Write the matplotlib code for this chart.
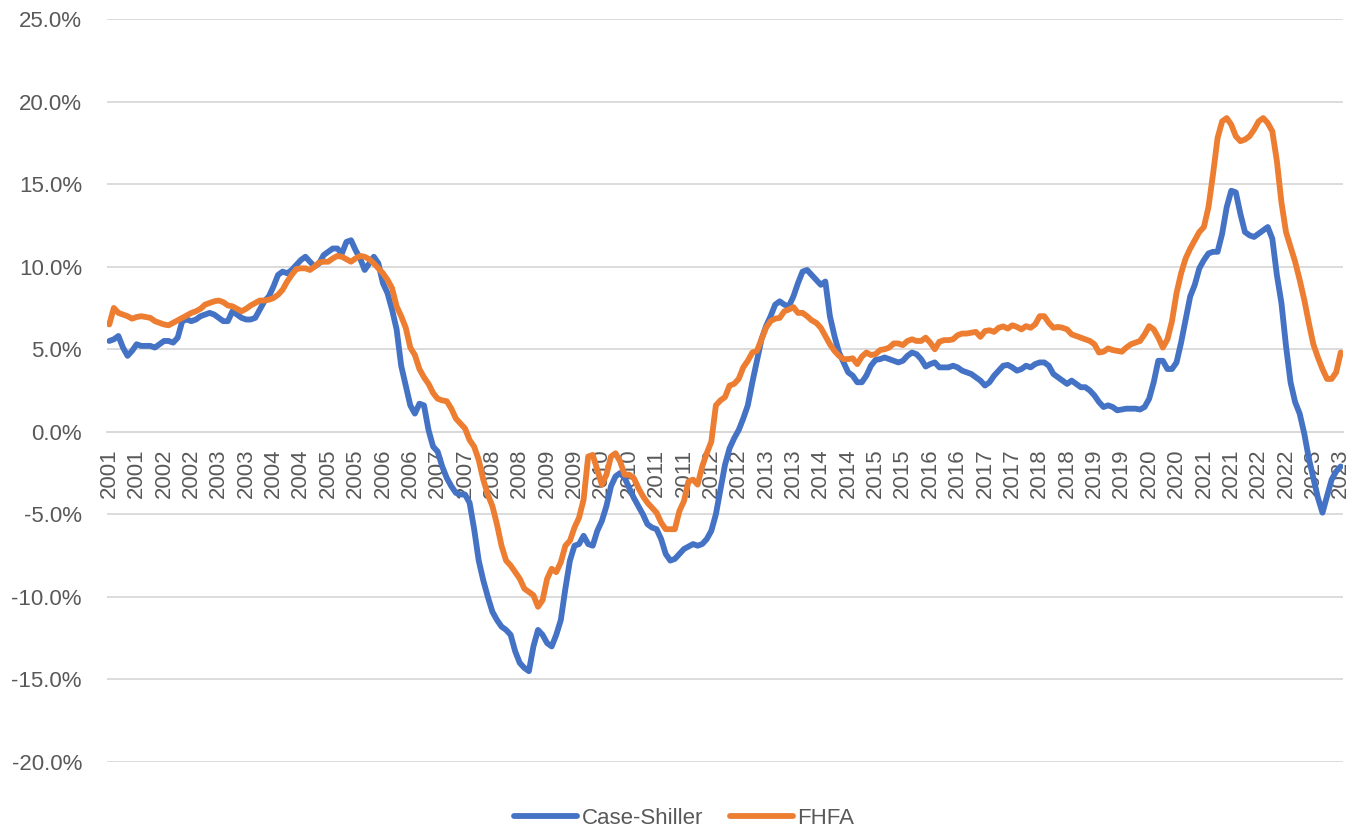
import matplotlib
matplotlib.use("Agg")
import matplotlib.pyplot as plt
import numpy as np

# Monthly year-over-year change (%), Jan 2001 .. Jul 2023
case_shiller = [
    # 2001
    5.5, 5.6, 5.8, 5.1, 4.6, 4.9, 5.3, 5.2, 5.2, 5.2, 5.1, 5.3,
    # 2002
    5.5, 5.5, 5.4, 5.7, 6.7, 6.8, 6.7, 6.8, 7.0, 7.1, 7.2, 7.1,
    # 2003
    6.9, 6.7, 6.7, 7.3, 7.1, 6.9, 6.8, 6.8, 6.9, 7.4, 7.9, 8.2,
    # 2004
    8.8, 9.5, 9.7, 9.6, 9.8, 10.1, 10.4, 10.6, 10.3, 10.0, 10.2, 10.7,
    # 2005
    10.9, 11.1, 11.1, 10.8, 11.5, 11.6, 11.0, 10.5, 9.8, 10.2, 10.6, 10.2,
    # 2006
    9.0, 8.4, 7.4, 6.2, 4.0, 2.8, 1.6, 1.1, 1.7, 1.6, 0.1, -0.9,
    # 2007
    -1.2, -2.1, -2.8, -3.3, -3.7, -3.8, -3.8, -4.3, -5.9, -7.8, -9.0, -10.0,
    # 2008
    -10.9, -11.4, -11.8, -12.0, -12.3, -13.3, -14.0, -14.3, -14.5, -13.0, -12.0, -12.3,
    # 2009
    -12.8, -13.0, -12.3, -11.4, -9.5, -7.8, -6.9, -6.8, -6.3, -6.8, -6.9, -6.0,
    # 2010
    -5.4, -4.5, -3.3, -2.7, -2.5, -2.8, -3.4, -4.0, -4.5, -5.0, -5.6, -5.8,
    # 2011
    -5.9, -6.5, -7.4, -7.8, -7.7, -7.4, -7.1, -6.95, -6.8, -6.9, -6.8, -6.5,
    # 2012
    -6.0, -5.0, -3.5, -2.0, -1.0, -0.4, 0.1, 0.8, 1.6, 3.0, 4.3, 5.6,
    # 2013
    6.4, 7.0, 7.7, 7.9, 7.7, 7.6, 8.2, 9.0, 9.7, 9.8, 9.5, 9.2,
    # 2014
    8.9, 9.1, 7.0, 5.8, 4.8, 4.2, 3.6, 3.4, 3.0, 3.0, 3.4, 4.0,
    # 2015
    4.35, 4.4, 4.5, 4.4, 4.3, 4.2, 4.3, 4.6, 4.8, 4.7, 4.4, 3.95,
    # 2016
    4.1, 4.2, 3.9, 3.9, 3.9, 4.0, 3.9, 3.7, 3.6, 3.5, 3.3, 3.1,
    # 2017
    2.8, 3.0, 3.4, 3.7, 4.0, 4.05, 3.9, 3.7, 3.8, 4.0, 3.9, 4.1,
    # 2018
    4.2, 4.2, 4.0, 3.5, 3.3, 3.1, 2.9, 3.1, 2.9, 2.7, 2.7, 2.5,
    # 2019
    2.2, 1.8, 1.5, 1.6, 1.5, 1.3, 1.35, 1.4, 1.4, 1.4, 1.35, 1.5,
    # 2020
    2.0, 3.0, 4.3, 4.3, 3.8, 3.8, 4.2, 5.4, 6.8, 8.2, 8.9, 9.9,
    # 2021
    10.4, 10.8, 10.9, 10.9, 12.0, 13.6, 14.6, 14.5, 13.2, 12.1, 11.9, 11.8,
    # 2022
    12.0, 12.2, 12.4, 11.7, 9.5, 7.8, 5.2, 3.0, 1.8, 1.1, -0.1, -1.6,
    # 2023
    -2.8, -4.0, -4.9, -3.9, -2.9, -2.4, -2.1,
]

fhfa = [
    # 2001
    6.5, 7.5, 7.2, 7.1, 7.0, 6.85, 6.95, 7.0, 6.95, 6.9, 6.7, 6.6,
    # 2002
    6.5, 6.45, 6.6, 6.75, 6.9, 7.05, 7.2, 7.3, 7.45, 7.7, 7.8, 7.9,
    # 2003
    7.95, 7.85, 7.65, 7.6, 7.45, 7.3, 7.45, 7.65, 7.8, 7.95, 7.95, 8.0,
    # 2004
    8.1, 8.3, 8.6, 9.1, 9.5, 9.85, 9.9, 9.9, 9.8, 10.0, 10.25, 10.3,
    # 2005
    10.3, 10.5, 10.65, 10.6, 10.45, 10.3, 10.5, 10.65, 10.6, 10.45, 10.2, 9.9,
    # 2006
    9.6, 9.2, 8.7, 7.6, 7.0, 6.3, 5.1, 4.65, 3.8, 3.3, 2.9, 2.35,
    # 2007
    2.0, 1.9, 1.85, 1.4, 0.8, 0.5, 0.2, -0.5, -0.9, -1.7, -2.9, -3.8,
    # 2008
    -4.5, -5.6, -6.9, -7.8, -8.1, -8.5, -8.9, -9.5, -9.7, -9.9, -10.6, -10.2,
    # 2009
    -8.9, -8.3, -8.5, -7.9, -6.9, -6.6, -5.8, -5.2, -4.1, -1.5, -1.4, -2.3,
    # 2010
    -3.2, -2.6, -1.5, -1.3, -1.8, -2.6, -2.6, -2.8, -3.4, -3.9, -4.3, -4.6,
    # 2011
    -4.9, -5.5, -5.9, -5.9, -5.9, -4.8, -4.2, -3.0, -2.9, -3.2, -2.1, -1.3,
    # 2012
    -0.6, 1.6, 1.9, 2.1, 2.8, 2.9, 3.2, 3.9, 4.3, 4.8, 4.9, 5.6,
    # 2013
    6.3, 6.7, 6.85, 6.9, 7.3, 7.4, 7.55, 7.2, 7.2, 7.0, 6.75, 6.6,
    # 2014
    6.3, 5.8, 5.3, 4.9, 4.6, 4.4, 4.4, 4.45, 4.1, 4.55, 4.8, 4.65,
    # 2015
    4.7, 4.95, 5.0, 5.1, 5.35, 5.35, 5.25, 5.5, 5.6, 5.5, 5.5, 5.7,
    # 2016
    5.4, 5.0, 5.45, 5.55, 5.55, 5.6, 5.85, 5.95, 5.95, 6.0, 6.05, 5.75,
    # 2017
    6.1, 6.15, 6.05, 6.3, 6.38, 6.25, 6.45, 6.35, 6.2, 6.4, 6.3, 6.5,
    # 2018
    7.0, 7.0, 6.6, 6.3, 6.35, 6.3, 6.2, 5.9, 5.8, 5.7, 5.6, 5.5,
    # 2019
    5.3, 4.8, 4.85, 5.05, 4.95, 4.9, 4.85, 5.1, 5.3, 5.4, 5.5, 5.9,
    # 2020
    6.4, 6.2, 5.7, 5.1, 5.6, 6.7, 8.4, 9.6, 10.5, 11.1, 11.6, 12.1,
    # 2021
    12.4, 13.6, 15.6, 17.8, 18.8, 19.0, 18.6, 17.9, 17.6, 17.7, 17.9, 18.3,
    # 2022
    18.8, 19.0, 18.7, 18.2, 16.4, 13.9, 12.1, 11.2, 10.3, 9.2, 8.0, 6.6,
    # 2023
    5.3, 4.5, 3.8, 3.2, 3.2, 3.6, 4.8,
]

tick_labels = [
    "2001", "2001", "2002", "2002", "2003", "2003", "2004", "2004",
    "2005", "2005", "2006", "2006", "2007", "2007", "2008", "2008",
    "2009", "2009", "2010", "2010", "2011", "2011", "2012", "2012",
    "2013", "2013", "2014", "2014", "2015", "2015", "2016", "2016",
    "2017", "2017", "2018", "2018", "2019", "2019", "2020", "2020",
    "2021", "2021", "2022", "2022", "2023", "2023",
]
series_names = ["Case-Shiller", "FHFA"]
y_ticks = [-20, -15, -10, -5, 0, 5, 10, 15, 20, 25]

plt.rcParams['font.family'] = ['Liberation Sans', 'DejaVu Sans']

W, H = 1360, 833
fig = plt.figure(figsize=(W / 100, H / 100), dpi=100)
ax = fig.add_axes([107 / W, 1 - 762 / H, (1343 - 107) / W, (762 - 19) / H])

n = len(fhfa)
x = np.arange(n)
ax.plot(np.arange(len(case_shiller)), case_shiller, color="#4472C4", lw=4.2,
        solid_joinstyle="round", solid_capstyle="round", label=series_names[0], zorder=3)
ax.plot(x, fhfa, color="#ED7D31", lw=4.2,
        solid_joinstyle="round", solid_capstyle="round", label=series_names[1], zorder=3)

ax.set_xlim(-0.5, n - 0.5)
ax.set_ylim(-20, 25)
ax.set_yticks(y_ticks)
ax.set_yticklabels([f"{v:.1f}%" for v in y_ticks])
ax.yaxis.grid(True, color="#D9D9D9", lw=1.3)
ax.set_axisbelow(True)

for s in ["top", "right", "left"]:
    ax.spines[s].set_visible(False)
ax.spines["bottom"].set_position(("data", 0))
ax.spines["bottom"].set_color("#D9D9D9")
ax.spines["bottom"].set_linewidth(1.3)

tick_pos = list(range(0, 6 * len(tick_labels), 6))
ax.set_xticks(tick_pos)
ax.set_xticklabels(tick_labels, rotation=90, ha="center", va="top")

ax.tick_params(axis="y", length=0, pad=18, labelsize=16, labelcolor="#595959")
ax.tick_params(axis="x", length=0, pad=12, labelsize=16, labelcolor="#595959")

fig.legend(loc="center", bbox_to_anchor=(684 / W, 1 - 818 / H), ncol=2, frameon=False,
           fontsize=16, handlelength=2.85, handletextpad=0.2, columnspacing=1.2,
           labelcolor="#595959")

fig.savefig("out.png", dpi=100)
